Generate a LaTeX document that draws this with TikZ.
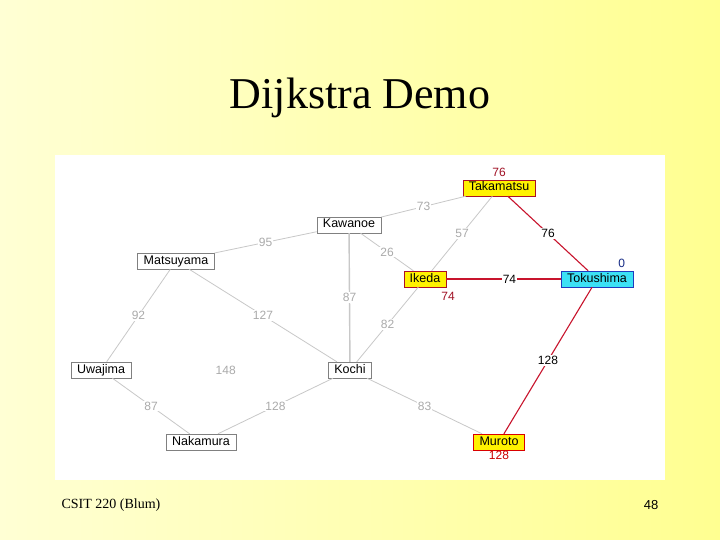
\documentclass[tikz,border=0pt]{standalone}
\usepackage{fontspec}
\setmainfont{Liberation Serif}
\setsansfont{Liberation Sans}
\usetikzlibrary{positioning}

\definecolor{bgleft}{RGB}{255,255,212}
\definecolor{bgright}{RGB}{255,255,145}
\definecolor{roadgray}{RGB}{200,200,200}
\definecolor{costgray}{RGB}{170,170,170}
\definecolor{pathred}{RGB}{200,20,45}
\definecolor{boxgray}{RGB}{128,128,128}
\definecolor{tokucyan}{RGB}{60,225,245}
\definecolor{tokublue}{RGB}{30,60,190}

\tikzset{
  town/.style={draw=boxgray, fill=white, font=\sffamily\fontsize{12.5}{13}\selectfont,
    inner xsep=6pt, inner ysep=2pt, text height=9pt, text depth=3pt},
  done/.style={town, draw=pathred!85!black, fill=yellow},
  source/.style={town, draw=tokublue, fill=tokucyan},
  road/.style={roadgray, line width=0.8pt},
  best/.style={pathred, line width=1.1pt},
  cost/.style={font=\sffamily\fontsize{12}{13}\selectfont, text=costgray, fill=white, inner sep=1pt},
  bestcost/.style={cost, text=black},
  dist/.style={font=\sffamily\fontsize{12}{13}\selectfont, inner sep=1pt}
}

\begin{document}
\begin{tikzpicture}[x=1pt, y=-1pt]
  % slide background and panel
  \shade[left color=bgleft, right color=bgright] (0,0) rectangle (720,540);
  \fill[white] (55,155) rectangle (665,480);
  \useasboundingbox (0,0) rectangle (720,540);

  \node[font=\fontsize{44}{48}\selectfont, anchor=base] (title) at (360,109) {Dijkstra Demo};

  % towns
  \node[done, label={[dist, text=pathred!80!black, yshift=2pt]above:76}] (tk) at (499,188) {Takamatsu};
  \node[town] (kw) at (349,225) {Kawanoe};
  \node[town] (mt) at (176,261) {Matsuyama};
  \node[done, label={[dist, text=pathred!80!black, xshift=7pt, yshift=-4pt]below right:74}] (ik) at (425,279) {Ikeda};
  \node[source, label={[dist, text=tokublue!70!black, xshift=12pt, yshift=2pt]above right:0}] (to) at (597,279) {Tokushima};
  \node[town] (uw) at (101,370) {Uwajima};
  \node[town] (ko) at (350,370) {Kochi};
  \node[town] (nk) at (201,442) {Nakamura};
  \node[done, draw=red!85!black, label={[dist, text=red!80!black]below:128}] (mu) at (499,442) {Muroto};

  % roads
  \draw[road] (tk) -- node[cost] {73} (kw);
  \draw[road] (tk) -- node[cost] {57} (ik);
  \draw[road] (kw) -- node[cost] {95} (mt);
  \draw[road] (kw) -- node[cost] {26} (ik);
  \draw[road, line width=1.4pt] (kw) -- node[cost] {87} (ko);
  \draw[road] (ik) -- node[cost] {82} (ko);
  \draw[road] (mt) -- node[cost] {92} (uw);
  \draw[road] (mt) -- node[cost] {127} (ko);
  \path (uw) -- node[cost, pos=0.48] {148} (ko);
  \draw[road] (uw) -- node[cost] {87} (nk);
  \draw[road] (nk) -- node[cost] {128} (ko);
  \draw[road] (ko) -- node[cost] {83} (mu);

  % shortest paths from Tokushima
  \draw[best] (to) -- node[bestcost] {76} (tk);
  \draw[best] (to) -- node[bestcost, pos=0.45] {74} (ik);
  \draw[best] (to) -- node[bestcost] {128} (mu);

  % footer
  \node[font=\fontsize{14}{16}\selectfont] (course) at (111,505) {CSIT 220 (Blum)};
  \node[font=\sffamily\fontsize{13}{15}\selectfont] (page) at (651,505) {48};
\end{tikzpicture}
\end{document}
